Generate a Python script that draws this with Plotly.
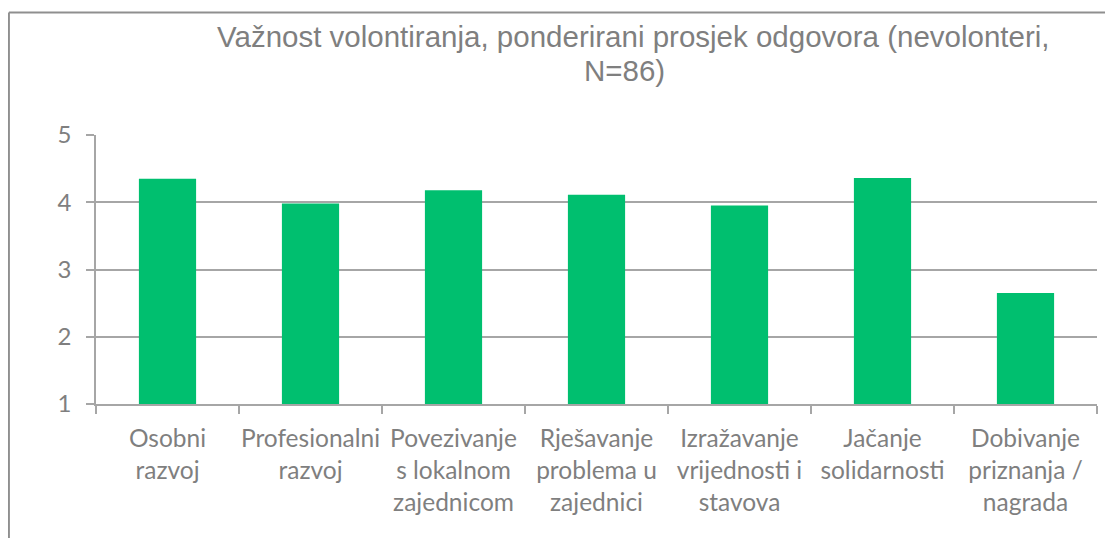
import plotly.graph_objects as go

# Data
categories = ['Osobni<br>razvoj', 'Profesionalni<br>razvoj', 'Povezivanje<br>s lokalnom<br>zajednicom',
              'Rješavanje<br>problema u<br>zajednici', 'Izražavanje<br>vrijednosti i<br>stavova',
              'Jačanje<br>solidarnosti', 'Dobivanje<br>priznanja /<br>nagrada']
values = [4.35, 3.98, 4.18, 4.11, 3.95, 4.36, 2.65]
y_ticks = [1, 2, 3, 4, 5]

grey_txt = '#7f7f7f'
grey_line = '#a6a6a6'

fig = go.Figure()
fig.add_trace(go.Bar(x=categories, y=values, marker=dict(color='#00bf6f', line=dict(width=0)),
                     width=0.4))

# page body has an 8px margin, so the figure is a bit smaller than the window
fig.update_layout(
    width=1105, height=530,
    margin=dict(l=88, r=16, t=127, b=134),
    paper_bgcolor='white', plot_bgcolor='white',
    showlegend=False,
    font=dict(family='Lato', color=grey_txt),
)
fig.update_yaxes(range=[1, 5], tickvals=y_ticks, showgrid=True, gridcolor=grey_line, gridwidth=1.5,
                 showline=True, linecolor=grey_line, linewidth=1.5,
                 ticks='outside', ticklen=8, tickcolor=grey_line, tickwidth=1.5, ticklabelstandoff=10,
                 tickfont=dict(family='Lato', size=24, color=grey_txt), zeroline=False)
fig.update_xaxes(showline=True, linecolor=grey_line, linewidth=1.5,
                 ticks='outside', tickson='boundaries', ticklen=8, tickcolor=grey_line, tickwidth=1.5,
                 ticklabelstandoff=12,
                 tickfont=dict(family='Lato', size=24.5, color=grey_txt), tickangle=0)

# chart frame: top and left edges (the rest runs off the window)
frame = dict(color='#8f8f8f', width=2)
fig.add_shape(type='line', xref='paper', yref='paper', x0=-0.087, x1=1.1, y0=1.455, y1=1.455, line=frame)
fig.add_shape(type='line', xref='paper', yref='paper', x0=-0.087, x1=-0.087, y0=1.455, y1=-0.6, line=frame)

title_font = dict(family='Liberation Sans', size=29.5, color=grey_txt)
fig.add_annotation(text='Važnost volontiranja, ponderirani prosjek odgovora (nevolonteri,',
                   xref='paper', yref='paper', x=0.5365, y=1.368, xanchor='center', yanchor='middle',
                   showarrow=False, font=title_font)
fig.add_annotation(text='N=86)',
                   xref='paper', yref='paper', x=0.528, y=1.238, xanchor='center', yanchor='middle',
                   showarrow=False, font=title_font)

fig.write_html('out.html')
